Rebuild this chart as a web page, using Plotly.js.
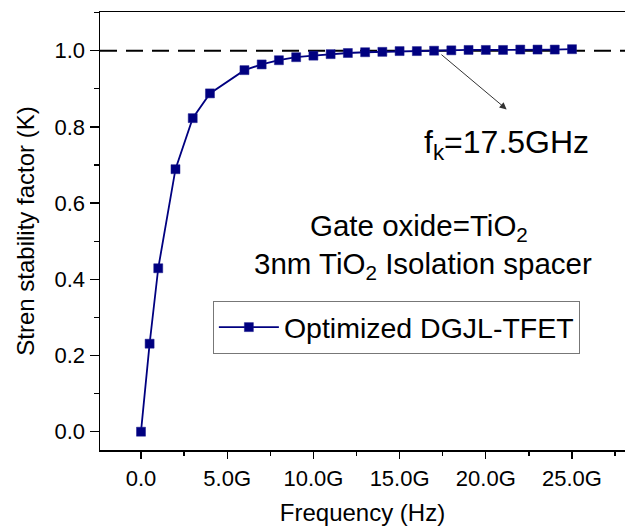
<!DOCTYPE html>
<html>
<head>
<meta charset="utf-8">
<script src="https://cdn.plot.ly/plotly-3.0.1.min.js"></script>
<style>
  html, body { margin: 0; padding: 0; background: #ffffff; }
  #chart { width: 625px; height: 529px; }
</style>
</head>
<body>
<div id="chart"></div>
<script>
// Frequency in GHz
const freqGHz = [0, 0.5, 1, 2, 3, 4, 6, 7, 8, 9, 10, 11, 12, 13, 14, 15, 16, 17, 18, 19, 20, 21, 22, 23, 24, 25];
// Stern stability factor K
const kFactor = [0, 0.231, 0.429, 0.689, 0.823, 0.888, 0.949, 0.964, 0.975, 0.983, 0.987, 0.991, 0.994, 0.996, 0.997, 0.999, 0.999, 1.000, 1.001, 1.002, 1.002, 1.002, 1.003, 1.003, 1.003, 1.004];
const seriesName = "Optimized DGJL-TFET";
const xTickVals = [0, 5, 10, 15, 20, 25];
const xTickText = ["0.0", "5.0G", "10.0G", "15.0G", "20.0G", "25.0G"];
const refLevel = 1.0;
const fkGHz = 17.5;

const FONT = "Liberation Sans, Arial, sans-serif";

const trace = {
  x: freqGHz,
  y: kFactor,
  name: seriesName,
  type: "scatter",
  mode: "lines+markers",
  line: { color: "#000080", width: 1.8 },
  marker: { symbol: "square", size: 9, color: "#000080", line: { color: "#1a1a8c", width: 0.5 } }
};

const layout = {
  width: 625,
  height: 529,
  margin: { l: 100, r: 0, t: 12, b: 79 },
  paper_bgcolor: "#ffffff",
  plot_bgcolor: "#ffffff",
  font: { family: FONT, color: "#000000" },
  showlegend: true,
  legend: {
    x: 0.215, y: 0.340, xanchor: "left", yanchor: "top",
    bgcolor: "#ffffff", bordercolor: "#777777", borderwidth: 1,
    font: { family: FONT, size: 28.5, color: "#000000" },
    itemwidth: 60
  },
  xaxis: {
    range: [-2.378, 28.074],
    showgrid: false, zeroline: false,
    showline: true, linecolor: "#000000", linewidth: 1.5, mirror: true,
    ticks: "outside", ticklen: 7, tickwidth: 1.3, tickcolor: "#000000",
    tickmode: "array", tickvals: xTickVals, ticktext: xTickText,
    tickfont: { family: FONT, size: 22 },
    ticklabelstandoff: 1,
    minor: { ticks: "outside", ticklen: 4, tickwidth: 1.3, tickcolor: "#000000", dtick: 2.5, tick0: 0, showgrid: false },
    title: { text: "Frequency (Hz)", font: { family: FONT, size: 24 }, standoff: 14 },
    automargin: false
  },
  yaxis: {
    range: [-0.048, 1.1016],
    showgrid: false, zeroline: false,
    showline: true, linecolor: "#000000", linewidth: 1.5, mirror: false,
    ticks: "outside", ticklen: 9, tickwidth: 1.3, tickcolor: "#000000",
    dtick: 0.2, tick0: 0, tickformat: ".1f",
    tickfont: { family: FONT, size: 22 },
    minor: { ticks: "outside", ticklen: 5, tickwidth: 1.3, tickcolor: "#000000", dtick: 0.1, tick0: 0, showgrid: false },
    title: { text: "Stren stability factor (K)", font: { family: FONT, size: 24 }, standoff: 13 },
    automargin: false
  },
  shapes: [
    {
      type: "line", xref: "paper", x0: 0, x1: 1, yref: "y", y0: refLevel, y1: refLevel,
      line: { color: "#000000", width: 2, dash: "17px,9px" }, layer: "below"
    }
  ],
  annotations: [
    {
      x: 21.21, y: 0.846, xref: "x", yref: "y",
      ax: fkGHz - 0.16, ay: 0.993, axref: "x", ayref: "y",
      text: "", showarrow: true, arrowhead: 2, arrowsize: 1.4, arrowwidth: 1, arrowcolor: "#333333"
    },
    {
      x: 16.3, y: 0.755, xref: "x", yref: "y", xanchor: "left", yanchor: "middle",
      text: "f<sub>k</sub>=17.5GHz", showarrow: false,
      font: { family: FONT, size: 32, color: "#000000" }
    },
    {
      x: 16.13, y: 0.535, xref: "x", yref: "y", xanchor: "center", yanchor: "middle",
      text: "Gate oxide=TiO<sub>2</sub>", showarrow: false,
      font: { family: FONT, size: 29.5, color: "#000000" }
    },
    {
      x: 16.33, y: 0.437, xref: "x", yref: "y", xanchor: "center", yanchor: "middle",
      text: "3nm TiO<sub>2</sub> Isolation spacer", showarrow: false,
      font: { family: FONT, size: 29.5, color: "#000000" }
    }
  ]
};

Plotly.newPlot("chart", [trace], layout, { displayModeBar: false, staticPlot: true });
</script>
</body>
</html>
